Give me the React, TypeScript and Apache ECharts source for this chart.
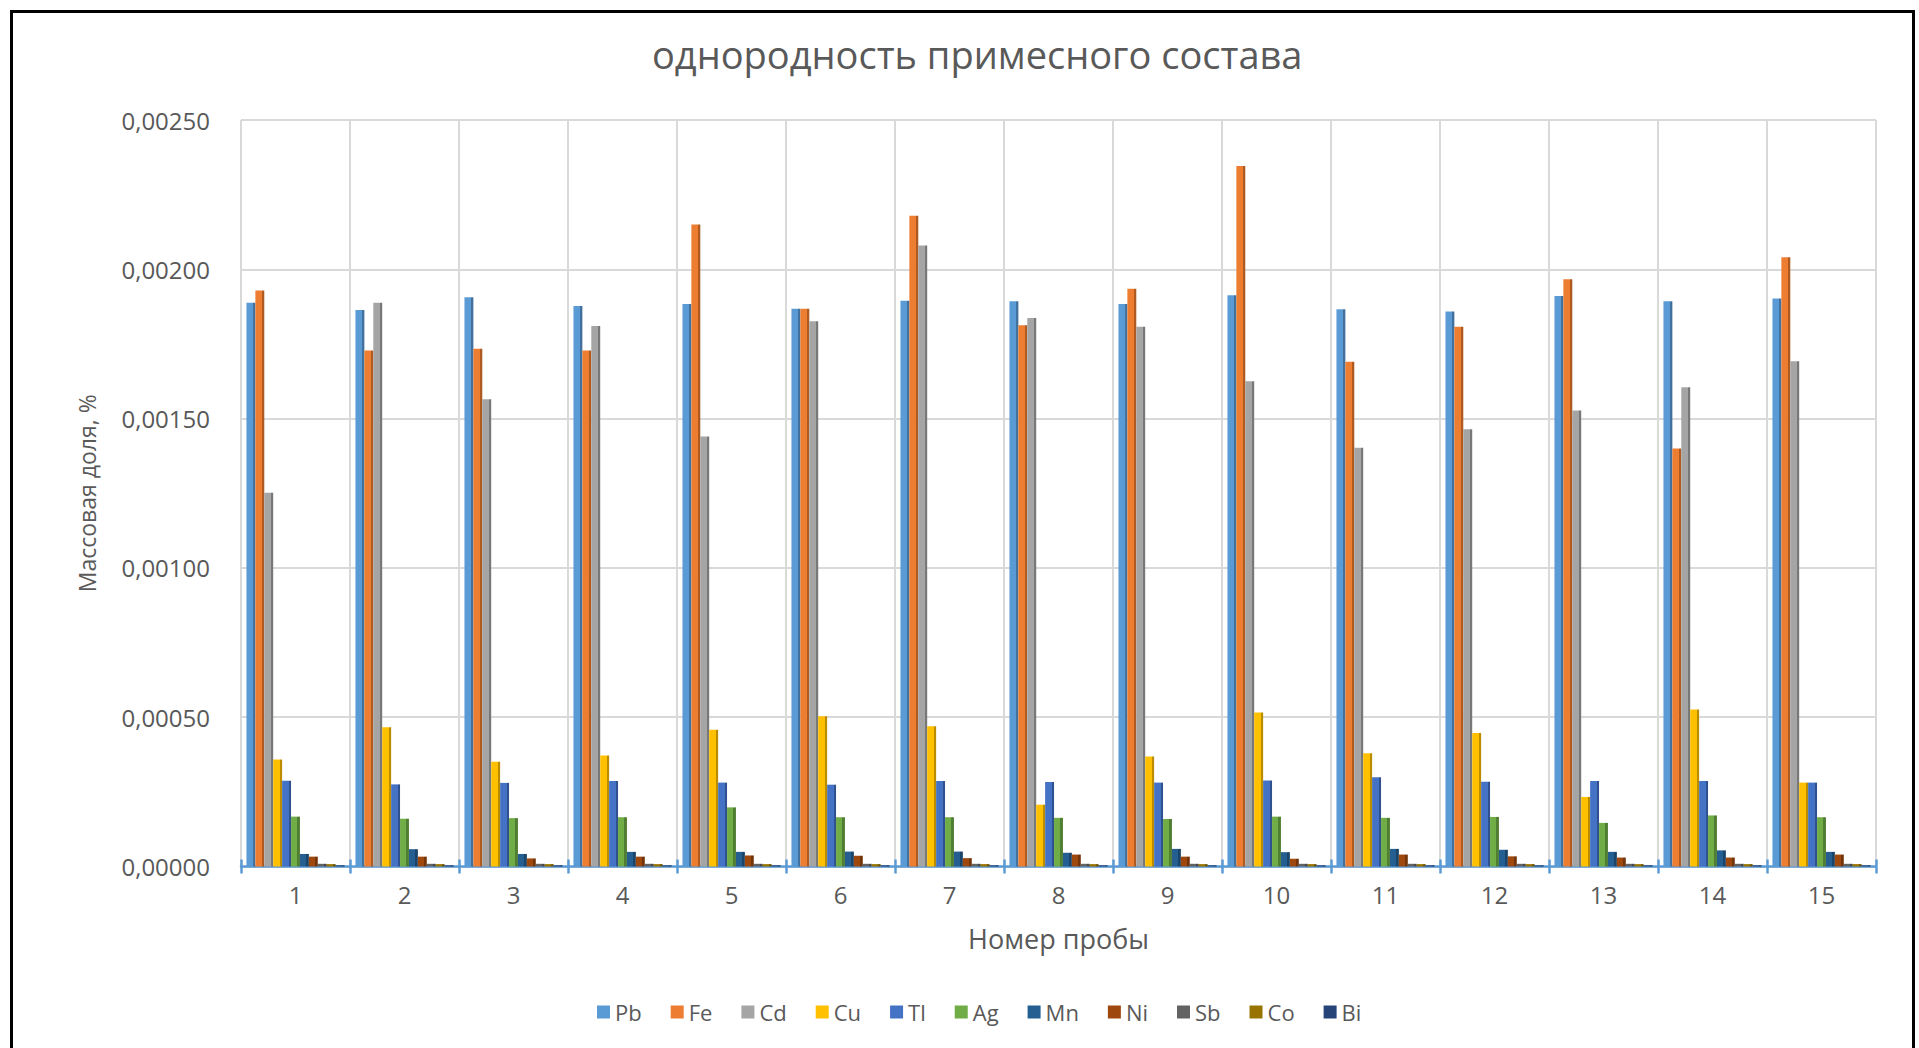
import React, { useEffect, useRef } from "react";
import * as echarts from "echarts";

const categories = ["1", "2", "3", "4", "5", "6", "7", "8", "9", "10", "11", "12", "13", "14", "15"];
const seriesNames = ["Pb", "Fe", "Cd", "Cu", "Tl", "Ag", "Mn", "Ni", "Sb", "Co", "Bi"];
const seriesColors = ["#5B9BD5", "#ED7D31", "#A5A5A5", "#FFC000", "#4472C4", "#70AD47", "#255E91", "#9E480E", "#636363", "#997300", "#264478"];
const sideColors = ["#41719C", "#AE5A21", "#787878", "#BC8C00", "#2F528F", "#507E32", "#1A4469", "#733409", "#484848", "#6F5300", "#1B3155"];

const Pb = [0.001888, 0.001864, 0.001906, 0.001877, 0.001884, 0.001868, 0.001895, 0.001893, 0.001884, 0.001913, 0.001866, 0.001859, 0.001911, 0.001893, 0.001902];
const Fe = [0.001929, 0.001728, 0.001734, 0.001728, 0.00215, 0.001868, 0.002179, 0.001813, 0.001935, 0.002346, 0.00169, 0.001808, 0.001967, 0.0014, 0.00204];
const Cd = [0.001252, 0.001888, 0.001565, 0.00181, 0.00144, 0.001826, 0.00208, 0.001837, 0.001808, 0.001625, 0.001402, 0.001464, 0.001527, 0.001605, 0.001692];
const Cu = [0.000358, 0.000466, 0.000351, 0.000372, 0.000458, 0.000503, 0.00047, 0.000207, 0.000368, 0.000516, 0.000379, 0.000447, 0.000233, 0.000526, 0.000281];
const Tl = [0.000287, 0.000275, 0.00028, 0.000286, 0.000281, 0.000274, 0.000286, 0.000283, 0.000281, 0.000288, 0.000299, 0.000284, 0.000286, 0.000286, 0.000281];
const Ag = [0.000167, 0.00016, 0.000162, 0.000165, 0.000198, 0.000165, 0.000165, 0.000163, 0.000159, 0.000167, 0.000163, 0.000166, 0.000146, 0.000171, 0.000165];
const Mn = [0.000042, 0.000058, 0.000042, 0.000049, 0.000049, 0.00005, 0.00005, 0.000046, 0.000059, 0.000048, 0.000059, 0.000056, 0.000049, 0.000054, 0.000049];
const Ni = [0.000033, 0.000033, 0.000027, 0.000033, 0.000037, 0.000036, 0.000028, 0.00004, 0.000033, 0.000026, 0.00004, 0.000034, 0.00003, 0.00003, 0.00004];
const Sb = [0.000009, 0.000009, 0.000009, 0.000009, 0.000009, 0.000009, 0.000009, 0.000009, 0.000009, 0.000009, 0.000009, 0.000009, 0.000009, 0.000009, 0.000009];
const Co = [0.000008, 0.000008, 0.000008, 0.000008, 0.000008, 0.000008, 0.000008, 0.000008, 0.000008, 0.000008, 0.000008, 0.000008, 0.000008, 0.000008, 0.000008];
const Bi = [0.000004, 0.000004, 0.000004, 0.000004, 0.000004, 0.000004, 0.000004, 0.000004, 0.000004, 0.000004, 0.000004, 0.000004, 0.000004, 0.000004, 0.000004];

const seriesData = [Pb, Fe, Cd, Cu, Tl, Ag, Mn, Ni, Sb, Co, Bi];

const yTickMin = 0;
const yTickMax = 0.0025;
const yTickInterval = 0.0005;

const TEXT = "#595959";
const FONT = "Open Sans";

export default function App() {
  const ref = useRef<HTMLDivElement>(null);

  useEffect(() => {
    if (!ref.current) return;
    const chart = echarts.init(ref.current, undefined, { renderer: "svg" });

    const series = seriesNames.map((name, i) => ({
      name,
      type: "bar",
      xAxisIndex: 0,
      data: seriesData[i],
      barGap: "0%",
      barCategoryGap: "10%",
      itemStyle: {
        color: new echarts.graphic.LinearGradient(0, 0, 1, 0, [
          { offset: 0, color: seriesColors[i] },
          { offset: 0.72, color: seriesColors[i] },
          { offset: 0.72, color: sideColors[i] },
          { offset: 1, color: sideColors[i] },
        ]),
      },
    }));

    chart.setOption({
      animation: false,
      backgroundColor: "#ffffff",
      textStyle: { fontFamily: FONT },
      title: {
        text: "однородность примесного состава",
        left: 647,
        top: 30,
        textStyle: { color: TEXT, fontSize: 38, fontWeight: "normal", fontFamily: FONT },
      },
      legend: {
        data: seriesNames.map((n, i) => ({ name: n, itemStyle: { color: seriesColors[i] } })),
        bottom: 20,
        left: 592,
        itemWidth: 13,
        itemHeight: 13,
        itemGap: 29,
        icon: "rect",
        textStyle: { color: TEXT, fontSize: 22, fontFamily: FONT },
      },
      grid: { left: 241, right: 43, top: 120, bottom: 181.5, containLabel: false },
      xAxis: [
        {
          type: "category",
          data: categories,
          name: "Номер пробы",
          nameLocation: "middle",
          nameGap: 58,
          nameTextStyle: { color: TEXT, fontSize: 27, fontFamily: FONT },
          axisLine: { show: true, lineStyle: { color: "#5B9BD5", width: 2.5 } },
          axisTick: { show: true, length: 7, lineStyle: { color: "#5B9BD5", width: 2.5 } },
          axisLabel: { color: TEXT, fontSize: 24, margin: 16, fontFamily: FONT },
          splitLine: { show: true, lineStyle: { color: "#D9D9D9", width: 2 } },
        },
        {
          type: "category",
          data: categories,
          position: "bottom",
          offset: 0,
          axisLine: { show: false },
          axisTick: { show: true, inside: true, length: 7, lineStyle: { color: "#5B9BD5", width: 2.5 } },
          axisLabel: { show: false },
          splitLine: { show: false },
        },
      ],
      yAxis: {
        type: "value",
        min: yTickMin,
        max: yTickMax,
        interval: yTickInterval,
        name: "Массовая доля, %",
        nameLocation: "middle",
        nameGap: 143,
        nameTextStyle: { color: TEXT, fontSize: 23, fontFamily: FONT },
        axisLine: { show: false },
        axisTick: { show: false },
        axisLabel: {
          color: TEXT,
          fontSize: 24,
          margin: 31,
          fontFamily: FONT,
          formatter: (v: number) => v.toFixed(5).replace(".", ","),
        },
        splitLine: { show: true, lineStyle: { color: "#D9D9D9", width: 2 } },
      },
      graphic: [
        {
          type: "rect",
          left: 9,
          top: 9,
          shape: { x: 0, y: 0, width: 1902, height: 1080 },
          style: { fill: "none", stroke: "#000000", lineWidth: 3 },
          silent: true,
          z: 100,
        },
      ],
      series,
    });

    return () => {
      chart.dispose();
    };
  }, []);

  return (
    <div
      ref={ref}
      style={{ position: "fixed", left: 0, top: 0, width: 1919, height: 1048 }}
    />
  );
}
